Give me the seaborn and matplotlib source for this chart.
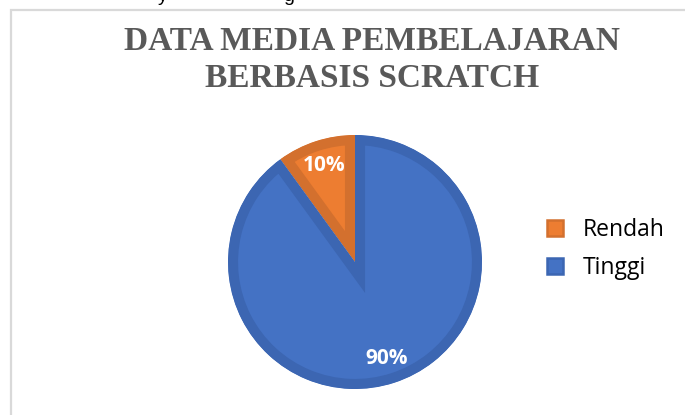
import matplotlib
matplotlib.use("Agg")
import matplotlib.pyplot as plt
import seaborn as sns
from matplotlib.patches import Patch, Rectangle

# data
categories = ["Rendah", "Tinggi"]
values = [10, 90]
fill_colors = ["#ED7D31", "#4472C4"]
edge_colors = ["#D3702E", "#3C66B2"]
title = "DATA MEDIA PEMBELAJARAN\nBERBASIS SCRATCH"

sns.set_theme(style="white")
plt.rcParams['font.family'] = ['Open Sans', 'DejaVu Sans']

W, H = 685, 415
fig = plt.figure(figsize=(W / 100, H / 100), dpi=100)

# chart frame (light gray border, runs off right/bottom edges)
fig.patches.append(Rectangle((11 / W, -0.1), 1.2, 1 - 10 / H + 0.1,
                             transform=fig.transFigure, fill=False,
                             edgecolor="#D9D9D9", linewidth=1.6))

# fragments of the text line above the chart (only descenders visible)
fig.text(158 / W, 1 - 1 / H, "y", fontsize=14, color="black",
         family="Liberation Sans", va="baseline")
fig.text(283 / W, 1 - 1 / H, "g", fontsize=14, color="black",
         family="Liberation Sans", va="baseline")

fig.text(372 / W, 1 - 60 / H, title, ha="center", va="center",
         fontsize=24, fontweight="bold", color="#595959",
         family="Liberation Serif", linespacing=1.28)

cx, cy, r = 355, 262, 127
ax = fig.add_axes([(cx - r) / W, (H - cy - r) / H, 2 * r / W, 2 * r / H])
wedges, texts, autotexts = ax.pie(
    values, colors=fill_colors, startangle=90, counterclock=True,
    autopct="%1.0f%%", pctdistance=0.8,
    textprops=dict(color="white", fontsize=15, fontweight="bold"))
for w, ec in zip(wedges, edge_colors):
    w.set_edgecolor(ec)
    w.set_linewidth(14.5)
    w.set_joinstyle("miter")
    w.set_clip_on(True)
    w.set_clip_path(w)
ax.set_xlim(-1, 1)
ax.set_ylim(-1, 1)
ax.set_aspect("equal")
ax.axis("off")

handles = [Patch(facecolor=fc, edgecolor=ec, linewidth=1.8)
           for fc, ec in zip(fill_colors, edge_colors)]
fig.legend(handles, categories, loc="center left",
           bbox_to_anchor=(547 / W, 1 - 249 / H), frameon=False,
           fontsize=16.5, handlelength=0.68, handleheight=0.68,
           handletextpad=0.9, labelspacing=0.62, borderpad=0,
           borderaxespad=0, labelcolor="black")

fig.savefig("out.png", dpi=100)
